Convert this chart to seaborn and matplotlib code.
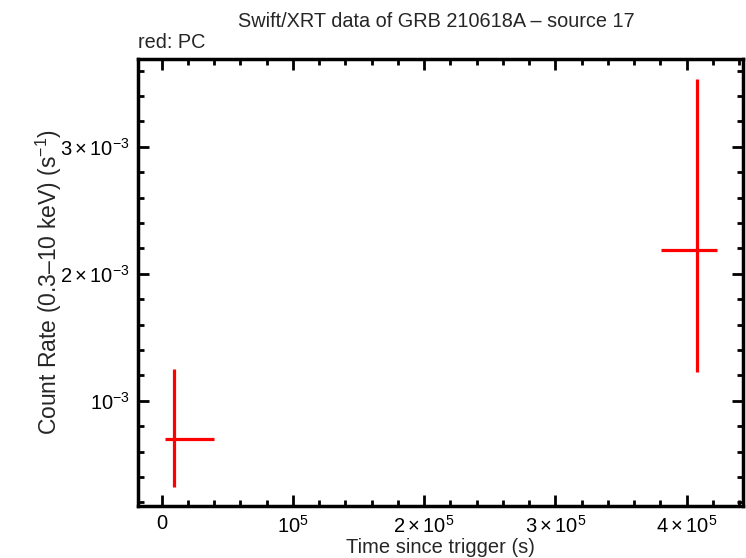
import matplotlib
matplotlib.use("Agg")
import matplotlib.pyplot as plt
import seaborn as sns
from matplotlib.ticker import MultipleLocator, FuncFormatter

# light curve values
time = [9450, 407850]
time_lo = [6850, 27200]     # left half-width of time bin (s)
time_hi = [30450, 15250]    # right half-width of time bin (s)
rate = [0.702e-3, 2.188e-3]
rate_lo = [0.383e-3, 0.961e-3]
rate_hi = [0.549e-3, 1.344e-3]

sns.set_style("ticks")
plt.rcParams["font.family"] = ["Liberation Sans", "DejaVu Sans"]
plt.rcParams["mathtext.fontset"] = "custom"
plt.rcParams["mathtext.rm"] = "Liberation Sans"
plt.rcParams["mathtext.it"] = "Liberation Sans"

fig = plt.figure(figsize=(7.46, 5.58), dpi=100)
ax = fig.add_axes([0.185, 0.093, 0.811, 0.801])

ax.errorbar(time, rate, xerr=[time_lo, time_hi], yerr=[rate_lo, rate_hi],
            fmt="none", ecolor="red", elinewidth=2.3, capsize=0)

ax.set_xlim(-18000, 443000)
ax.set_ylim(0.17e-3, 3.69e-3)

ax.xaxis.set_major_locator(MultipleLocator(1e5))
ax.xaxis.set_minor_locator(MultipleLocator(2e4))
ax.yaxis.set_major_locator(MultipleLocator(1e-3))
ax.yaxis.set_minor_locator(MultipleLocator(2e-4))


def xfmt(v, pos):
    n = int(round(v / 1e5))
    if n == 0:
        return "0"
    if n == 1:
        return r"$10^{5}$"
    return r"$%d\times10^{5}$" % n


def yfmt(v, pos):
    n = int(round(v / 1e-3))
    if n == 1:
        return r"$10^{-3}$"
    return r"$%d\times10^{-3}$" % n


ax.xaxis.set_major_formatter(FuncFormatter(xfmt))
ax.yaxis.set_major_formatter(FuncFormatter(yfmt))

ax.tick_params(which="both", direction="in", top=True, right=True,
               labelsize=14.5, colors="black", width=2)
ax.tick_params(which="major", length=8, pad=6)
ax.tick_params(which="minor", length=4)
for s in ax.spines.values():
    s.set_linewidth(2.5)
    s.set_color("black")

ax.set_xlabel("Time since trigger (s)", fontsize=14.5, labelpad=1)
ax.set_ylabel("Count Rate (0.3\u201310 keV) (s$^{-1}$)", fontsize=16.5, labelpad=-3)
fig.text(0.585, 0.962, "Swift/XRT data of GRB 210618A \u2013 source 17",
         ha="center", va="center", fontsize=14.3)
fig.text(0.185, 0.923, "red: PC", ha="left", va="center", fontsize=14.3)

fig.savefig("out.png", dpi=100)
